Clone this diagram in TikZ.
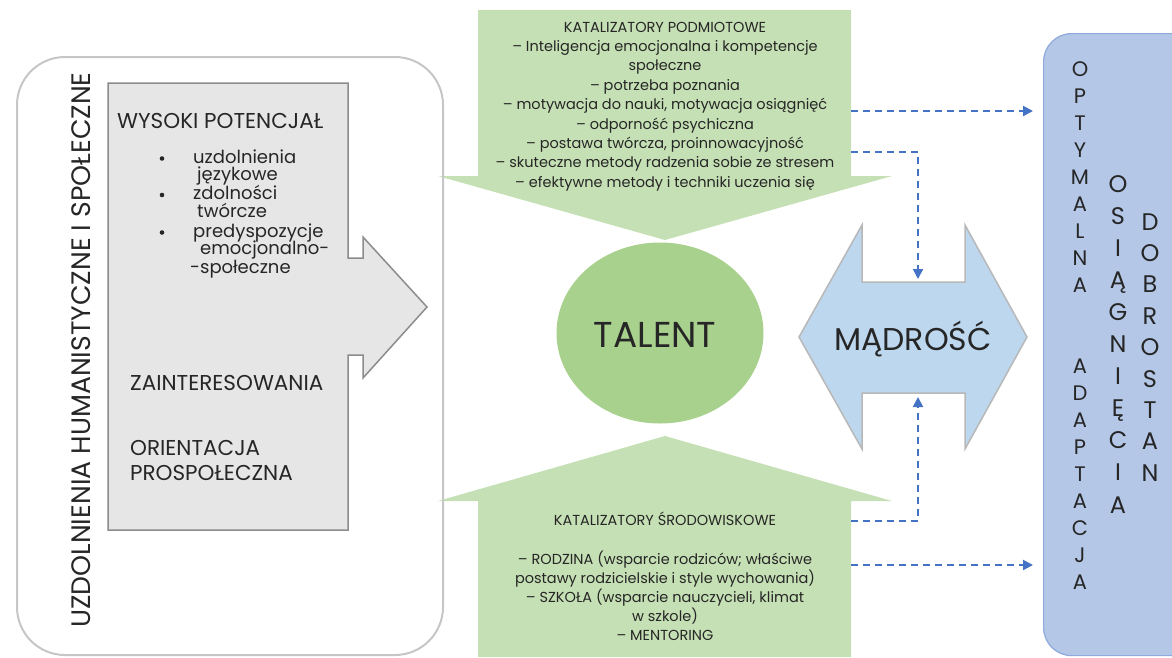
\documentclass[tikz,border=0pt]{standalone}
\usepackage{fontspec}
\setmainfont{Poppins}
\usetikzlibrary{arrows.meta,shapes.geometric}
\definecolor{catgreen}{HTML}{C5E0B4}
\definecolor{talentgreen}{HTML}{A9D18E}
\definecolor{wisdomblue}{HTML}{BDD7EE}
\definecolor{wisdomedge}{HTML}{B8B8B8}
\definecolor{goalblue}{HTML}{B4C7E7}
\definecolor{goaledge}{HTML}{8FAADC}
\definecolor{linkblue}{HTML}{4472C4}
\definecolor{potgray}{HTML}{E7E6E6}
\definecolor{potedge}{HTML}{8C8C8C}
\definecolor{framegray}{HTML}{C6C6C6}
\definecolor{ink}{HTML}{262626}

\begin{document}
\begin{tikzpicture}[x=1pt,y=-1pt,
  every node/.style={text=ink, inner sep=0pt},
  link/.style={draw=linkblue, line width=2pt, dash pattern=on 7pt off 5pt,
    -{Triangle[length=10pt,width=10pt]}},
  cattext/.style={font=\fontsize{14.5}{17}\selectfont, anchor=base},
  pothead/.style={font=\fontsize{21.5}{23}\selectfont, anchor=base west},
  potitem/.style={font=\fontsize{18}{19}\selectfont, anchor=base west},
  colsmall/.style={font=\fontsize{21}{22}\selectfont, anchor=base},
  colbig/.style={font=\fontsize{24}{26}\selectfont, anchor=base},
]
\useasboundingbox (0,0) rectangle (1172,657);

% catalysts: downward arrow (personal) and upward arrow (environmental)
\fill[catgreen] (478,10) -- (851,10) -- (851,176) -- (892,176) -- (665,240)
  -- (438,176) -- (478,176) -- cycle;
\fill[catgreen] (478,657) -- (478,501) -- (438,501) -- (665,436) -- (892,501)
  -- (851,501) -- (851,657) -- cycle;

% potential block with its arrow
\filldraw[fill=potgray, draw=potedge, line width=1.5pt]
  (108,83) -- (348,83) -- (348,258) -- (363,258) -- (363,237) -- (427,307)
  -- (363,378) -- (363,355) -- (348,355) -- (348,530) -- (108,530) -- cycle;

% talent
\node[ellipse, fill=talentgreen, minimum width=207pt, minimum height=181pt]
  (talent) at (660,333) {};
\node[font=\fontsize{36}{38}\selectfont, anchor=base] (talenttext) at (655,347) {TALENT};

% wisdom: double arrow with notches
\filldraw[fill=wisdomblue, draw=wisdomedge, line width=1.5pt]
  (799,337) -- (862,225) -- (862,282) -- (965,282) -- (965,225) -- (1027,337)
  -- (965,449) -- (965,393) -- (862,393) -- (862,449) -- cycle;
\coordinate (wtop) at (918,282);
\coordinate (wbot) at (918,393);
\node[font=\fontsize{31.5}{34}\selectfont, anchor=base] (wisdom) at (913,350) {MĄDROŚĆ};

% outcomes
\node[draw=goaledge, fill=goalblue, line width=1.2pt, rounded corners=28pt,
  minimum width=170pt, minimum height=622pt, anchor=north west] (goals) at (1043,33) {};

% dashed links
\coordinate (p1) at (851,111);
\coordinate (p2) at (851,152);
\coordinate (p3) at (851,521);
\coordinate (p4) at (851,565);
\draw[link, shorten >=10pt] (p1) -- (p1 -| goals.west);
\draw[link, shorten >=3pt] (p2) -| (wtop);
\draw[link, shorten >=4pt] (p3) -| (wbot);
\draw[link, shorten >=10pt] (p4) -- (p4 -| goals.west);

% outer frame of the humanistic abilities
\draw[framegray, line width=2pt, rounded corners=48pt] (17,57) rectangle (443,655);
\node[font=\fontsize{26.7}{28}\selectfont, rotate=90, anchor=base] (frametitle) at (90,350)
  {UZDOLNIENIA HUMANISTYCZNE I SPOŁECZNE};

% texts inside the potential block
\node[pothead] (wysoki) at (117,128) {WYSOKI POTENCJAŁ};
\node[potitem] (i1) at (193,163) {uzdolnienia};
\node[potitem] (i2) at (197,180) {językowe};
\node[potitem] (i3) at (193,199) {zdolności};
\node[potitem] (i4) at (197,217) {twórcze};
\node[potitem] (i5) at (193,237) {predyspozycje};
\node[potitem] (i6) at (200,254) {emocjonalno-};
\node[potitem] (i7) at (190,273) {-społeczne};
\foreach \y in {158.5,195,232.5} \fill[ink] (162,\y) circle (2.3pt);
\node[pothead] (zaint) at (130,390) {ZAINTERESOWANIA};
\node[pothead] (orient) at (130,455) {ORIENTACJA};
\node[pothead] (prosp) at (130,480) {PROSPOŁECZNA};

% personal catalysts
\foreach \t [count=\i from 0] in {
  {KATALIZATORY PODMIOTOWE},
  {– Inteligencja emocjonalna i kompetencje},
  {społeczne},
  {– potrzeba poznania},
  {– motywacja do nauki, motywacja osiągnięć},
  {– odporność psychiczna},
  {– postawa twórcza, proinnowacyjność},
  {– skuteczne metody radzenia sobie ze stresem},
  {– efektywne metody i techniki uczenia się}}
  \node[cattext] (pc\i) at (665,{32+19.4*\i}) {\t};

% environmental catalysts
\node[cattext] (ec0) at (665,525) {KATALIZATORY ŚRODOWISKOWE};
\foreach \t [count=\i from 1] in {
  {– RODZINA (wsparcie rodziców; właściwe},
  {postawy rodzicielskie i style wychowania)},
  {– SZKOŁA (wsparcie nauczycieli, klimat},
  {w szkole)},
  {– MENTORING}}
  \node[cattext] (ec\i) at (665,{545+19*\i}) {\t};

% outcome columns
\foreach \t [count=\i from 0] in {O,P,T,Y,M,A,L,N,A,{},{},A,D,A,P,T,A,C,J,A}
  \node[colsmall] (ca\i) at (1080,{76+27*\i}) {\t};
\foreach \t [count=\i from 0] in {O,S,I,Ą,G,N,I,Ę,C,I,A}
  \node[colbig] (cb\i) at (1118,{192+32.1*\i}) {\t};
\foreach \t [count=\i from 0] in {D,O,B,R,O,S,T,A,N}
  \node[colbig] (cc\i) at (1150,{230+31.4*\i}) {\t};
\end{tikzpicture}
\end{document}
